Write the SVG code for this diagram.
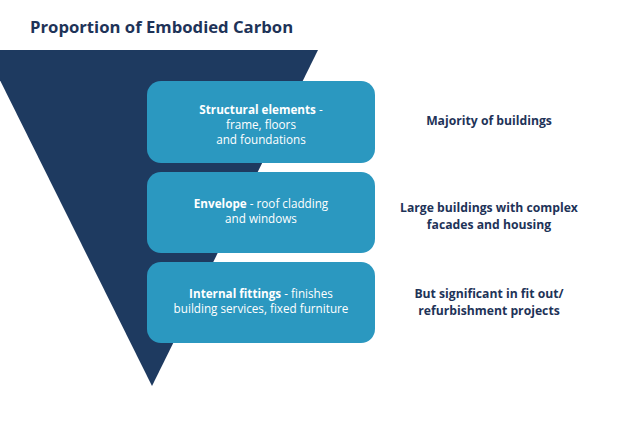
<svg xmlns="http://www.w3.org/2000/svg" width="638" height="425" viewBox="0 0 638 425">
<style>
text{font-family:"Open Sans","Noto Sans",sans-serif}
.box{fill:#2b98c0}
.bt{fill:#fff;font-size:11.7px;text-anchor:middle}
.b{font-weight:bold}
.side{fill:#1e3358;font-size:12.2px;font-weight:bold;text-anchor:middle}
</style>
<rect width="638" height="425" fill="#fff"/>
<text x="30" y="33" font-size="16.7" font-weight="bold" fill="#1e3358">Proportion of Embodied Carbon</text>
<polygon id="funnel" points="-15,50 318,50 152,386" fill="#1e3a60"/>
<g id="n1"><rect class="box" x="147" y="81" width="228" height="82" rx="14"/>
<text class="bt" x="261" y="114"><tspan class="b">Structural elements</tspan> -</text>
<text class="bt" x="261" y="129">frame, floors</text>
<text class="bt" x="261" y="144">and foundations</text></g>
<g id="n2"><rect class="box" x="147" y="172" width="228" height="81" rx="14"/>
<text class="bt" x="261" y="208"><tspan class="b">Envelope</tspan> - roof cladding</text>
<text class="bt" x="261" y="223">and windows</text></g>
<g id="n3"><rect class="box" x="147" y="262" width="228" height="81" rx="14"/>
<text class="bt" x="261" y="298"><tspan class="b">Internal fittings</tspan> - finishes</text>
<text class="bt" x="261" y="313">building services, fixed furniture</text></g>
<g id="labels">
<text class="side" x="489" y="212">Large buildings with complex</text>
<text class="side" x="489" y="228.5">facades and housing</text>
<text class="side" x="489" y="125">Majority of buildings</text>
<text class="side" x="489" y="298">But significant in fit out/</text>
<text class="side" x="489" y="314.5">refurbishment projects</text>
</g>
<g id="connectors"/>
</svg>
